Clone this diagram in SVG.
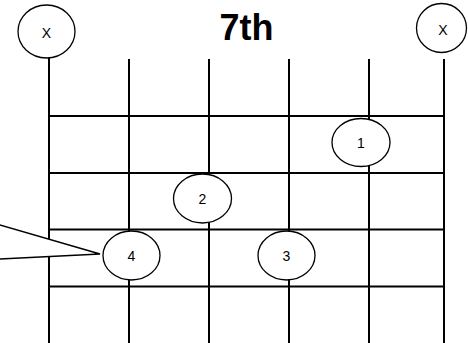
<svg xmlns="http://www.w3.org/2000/svg" width="468" height="343" viewBox="0 0 468 343">
<style>
.grid line{stroke:#000;stroke-width:2}
.node ellipse{fill:#fff;stroke:#000;stroke-width:1.3}
.node text{font-family:"Liberation Sans",Arial,sans-serif;font-size:14px;text-anchor:middle;fill:#000}
.title{font-family:"Liberation Sans",Arial,sans-serif;font-size:36px;font-weight:bold;text-anchor:middle;fill:#000}
</style>
<rect width="468" height="343" fill="#fff"/>
<g id="connectors" class="grid">
<line x1="49" y1="58" x2="49" y2="343"/>
<line x1="129" y1="59" x2="129" y2="343"/>
<line x1="209" y1="59" x2="209" y2="343"/>
<line x1="289" y1="59" x2="289" y2="343"/>
<line x1="369" y1="59" x2="369" y2="343"/>
<line x1="444" y1="59" x2="444" y2="343"/>
<line x1="49" y1="116" x2="444" y2="116"/>
<line x1="49" y1="173" x2="444" y2="173"/>
<line x1="49" y1="229.5" x2="444" y2="229.5"/>
<line x1="49" y1="286.5" x2="444" y2="286.5"/>
</g>
<g id="callout">
<path d="M -10 222 L 100 254 L -10 259.5 Z" fill="#fff" stroke="#000" stroke-width="1.5"/>
</g>
<text class="title" x="246.5" y="39.5">7th</text>
<g id="x-left" class="node"><ellipse cx="46.5" cy="31.5" rx="28.5" ry="26.5"/><text x="46.5" y="38">X</text></g>
<g id="x-right" class="node"><ellipse cx="441.5" cy="28" rx="25" ry="24.5"/><text x="443" y="34.5">X</text></g>
<g id="n1" class="node"><ellipse cx="361" cy="142.5" rx="29" ry="24"/><text x="361" y="148">1</text></g>
<g id="n2" class="node"><ellipse cx="202.5" cy="198.5" rx="29" ry="24.5"/><text x="202.5" y="204">2</text></g>
<g id="n3" class="node"><ellipse cx="286.5" cy="255.5" rx="28.5" ry="24.5"/><text x="286.5" y="261">3</text></g>
<g id="n4" class="node"><ellipse cx="131.5" cy="255.5" rx="28.5" ry="24.5"/><text x="131.5" y="261">4</text></g>
</svg>
